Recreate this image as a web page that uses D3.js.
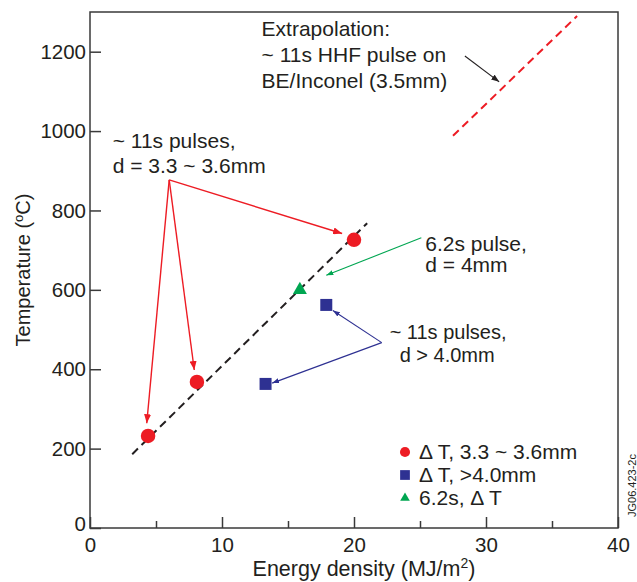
<!DOCTYPE html>
<html>
<head>
<meta charset="utf-8">
<script src="https://cdn.jsdelivr.net/npm/d3@7"></script>
<style>
	body { margin: 0; background: #fff; }
	text { font-family: "Liberation Sans", Arial, sans-serif; fill: #231f20; }
</style>
</head>
<body>
<svg id="chart" width="637" height="582"></svg>
<script>
// Series (energy density MJ/m2, temperature degC)
const redPoints = [[4.4, 232], [8.1, 368], [20.0, 726]]
const bluePoints = [[13.3, 363], [17.9, 562]]
const greenPoints = [[15.9, 600]]
const fitLine = [[3.2, 186], [21.0, 768]]
const extrapLine = [[27.5, 988], [36.9, 1290]]

const xTicks = [0, 10, 20, 30, 40]
const xMinorTicks = [5, 15, 25, 35]
const yTicks = [0, 200, 400, 600, 800, 1000, 1200]

// Annotation arrows, in data units: [from, to]
const redArrows = [
	[[6.0, 877], [19.1, 742]],
	[[6.0, 877], [4.3, 264]],
	[[6.0, 877], [7.9, 398]],
]
const blueArrows = [
	[[22.1, 467], [18.4, 548]],
	[[22.1, 467], [13.8, 365]],
]
const greenArrows = [[[25.1, 731], [17.9, 637]]]
const blackArrows = [[[28.4, 1189], [31.0, 1124]]]

const notes = [
	{ x: 13.0, y: 1240, gap: 26, size: 21, lines: ["Extrapolation:", "~ 11s HHF pulse on", "BE/Inconel (3.5mm)"], indent: [0, 0, 0] },
	{ x: 1.72, y: 957, gap: 25, size: 21, lines: ["~ 11s pulses,", "d = 3.3 ~ 3.6mm"], indent: [0, 0] },
	{ x: 25.4, y: 698, gap: 21, size: 21, lines: ["6.2s pulse,", "d = 4mm"], indent: [0, 0] },
	{ x: 22.7, y: 477, gap: 23, size: 20, lines: ["~ 11s pulses,", "d > 4.0mm"], indent: [0, 10] },
]

const legendItems = [
	{ label: "\u0394 T, 3.3 ~ 3.6mm", shape: d3.symbolCircle, colour: "#ed1c24", size: 80 },
	{ label: "\u0394 T, >4.0mm", shape: d3.symbolSquare, colour: "#2e3192", size: 95 },
	{ label: "6.2s, \u0394 T", shape: d3.symbolTriangle, colour: "#00a651", size: 40 },
]

const colours = { red: "#ed1c24", blue: "#2e3192", green: "#00a651", black: "#231f20", axis: "#3a3a3a" }

const svg = d3.select("#chart")
const plot = { left: 90, right: 618, top: 12, bottom: 528 }

const x = d3.scaleLinear().domain([0, 40]).range([plot.left, plot.right])
const y = d3.scaleLinear().domain([0, 1300]).range([plot.bottom, plot.top])

// Arrowhead markers
const defs = svg.append("defs")
function marker(id, colour, len, wid) {
	defs.append("marker")
		.attr("id", id)
		.attr("markerUnits", "userSpaceOnUse")
		.attr("viewBox", `0 0 ${len} ${wid}`)
		.attr("refX", len)
		.attr("refY", wid / 2)
		.attr("markerWidth", len)
		.attr("markerHeight", wid)
		.attr("orient", "auto")
		.append("path")
		.attr("d", `M0,0L${len},${wid / 2}L0,${wid}Z`)
		.attr("fill", colour)
}
marker("arRed", colours.red, 9, 7)
marker("arBlue", colours.blue, 7, 5)
marker("arGreen", colours.green, 7, 5)
marker("arBlack", colours.black, 8, 6)

// Frame
svg.append("rect")
	.attr("x", plot.left)
	.attr("y", plot.top)
	.attr("width", plot.right - plot.left)
	.attr("height", plot.bottom - plot.top)
	.attr("fill", "none")
	.attr("stroke", colours.axis)
	.attr("stroke-width", 1.5)

// Axes, ticks pointing inward
let xAxis = svg.append("g")
	.attr("transform", `translate(0,${plot.bottom})`)
	.call(d3.axisBottom(x).tickValues(xTicks).tickFormat(d3.format("d"))
		.tickSizeInner(-11).tickSizeOuter(0).tickPadding(9))
svg.append("g")
	.attr("transform", `translate(0,${plot.bottom})`)
	.call(d3.axisBottom(x).tickValues(xMinorTicks).tickSizeInner(-7).tickSizeOuter(0).tickFormat(""))
let yAxis = svg.append("g")
	.attr("transform", `translate(${plot.left},0)`)
	.call(d3.axisLeft(y).tickValues(yTicks).tickFormat(d3.format("d"))
		.tickSizeInner(-11).tickSizeOuter(0).tickPadding(4))

svg.selectAll(".domain").remove()
svg.selectAll(".tick line").attr("stroke", colours.axis).attr("stroke-width", 1.5)
svg.selectAll(".tick text")
	.style("font-family", "\"Liberation Sans\", Arial, sans-serif")
	.style("font-size", "20.5px")
	.attr("fill", "#231f20")
yAxis.selectAll(".tick")
	.filter(d => d === 0)
	.select("text").attr("dy", "0.1em")

// Axis titles
let yTitle = svg.append("text")
	.attr("transform", `translate(30,270) rotate(-90)`)
	.attr("text-anchor", "middle")
	.style("font-size", "20px")
yTitle.append("tspan").text("Temperature (")
yTitle.append("tspan").text("o").style("font-size", "13px").attr("dy", "-0.55em")
yTitle.append("tspan").text("C)").attr("dy", "0.35em")

let xTitle = svg.append("text")
	.attr("x", 364)
	.attr("y", 576)
	.attr("text-anchor", "middle")
	.style("font-size", "21.5px")
xTitle.append("tspan").text("Energy density (MJ/m")
xTitle.append("tspan").text("2").style("font-size", "14px").attr("dy", "-0.55em")
xTitle.append("tspan").text(")").attr("dy", "0.35em")

svg.append("text")
	.attr("transform", "translate(636,517) rotate(-90)")
	.style("font-size", "11px")
	.text("JG06.423-2c")

// Trend lines
let line = d3.line().x(d => x(d[0])).y(d => y(d[1]))
svg.append("path")
	.datum(fitLine)
	.attr("d", line)
	.attr("fill", "none")
	.attr("stroke", colours.black)
	.attr("stroke-width", 2)
	.attr("stroke-dasharray", "8,5")
svg.append("path")
	.datum(extrapLine)
	.attr("d", line)
	.attr("fill", "none")
	.attr("stroke", colours.red)
	.attr("stroke-width", 2)
	.attr("stroke-dasharray", "8,5")

// Annotation arrows
function arrows(data, colour, id, width) {
	svg.append("g")
		.selectAll("line")
		.data(data)
		.join("line")
		.attr("x1", d => x(d[0][0]))
		.attr("y1", d => y(d[0][1]))
		.attr("x2", d => x(d[1][0]))
		.attr("y2", d => y(d[1][1]))
		.attr("stroke", colour)
		.attr("stroke-width", width)
		.attr("marker-end", `url(#${id})`)
}
arrows(redArrows, colours.red, "arRed", 1.4)
arrows(blueArrows, colours.blue, "arBlue", 1.1)
arrows(greenArrows, colours.green, "arGreen", 1.1)
arrows(blackArrows, colours.black, "arBlack", 1.1)

// Data points
function points(data, shape, size, colour) {
	svg.append("g")
		.selectAll("path")
		.data(data)
		.join("path")
		.attr("transform", d => `translate(${x(d[0])},${y(d[1])})`)
		.attr("d", d3.symbol().type(shape).size(size))
		.attr("fill", colour)
}
points(redPoints, d3.symbolCircle, 165, colours.red)
points(bluePoints, d3.symbolSquare, 144, colours.blue)
points(greenPoints, d3.symbolTriangle, 85, colours.green)

// Text notes, one text element per line
notes.forEach(n => {
	let g = svg.append("g")
	n.lines.forEach((l, i) => {
		g.append("text")
			.attr("x", x(n.x) + n.indent[i])
			.attr("y", y(n.y) + i * n.gap)
			.style("font-size", `${n.size}px`)
			.text(l)
	})
})

// Legend
let legend = svg.append("g")
	.attr("transform", "translate(405,452)")
let rows = legend.selectAll("g")
	.data(legendItems)
	.join("g")
	.attr("transform", (d, i) => `translate(0,${i * 23})`)
rows.append("path")
	.attr("d", d => d3.symbol().type(d.shape).size(d.size)())
	.attr("fill", d => d.colour)
rows.append("text")
	.attr("x", 14)
	.attr("y", 7)
	.style("font-size", "21px")
	.text(d => d.label)
</script>
</body>
</html>
